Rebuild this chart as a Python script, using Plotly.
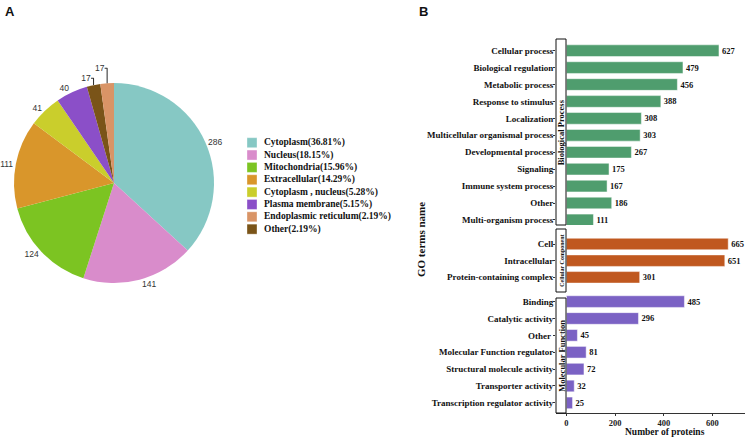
import plotly.graph_objects as go

W, H = 747, 438

# ---- pie data (panel A), in clockwise slice order from 12 o'clock
loc_names = ["Cytoplasm", "Nucleus", "Mitochondria", "Extracellular",
             "Cytoplasm , nucleus", "Plasma membrane", "Other", "Endoplasmic reticulum"]
loc_counts = [286, 141, 124, 111, 41, 40, 17, 17]
loc_colors = ["#86c8c4", "#d98ccb", "#7cc422", "#d9962b",
              "#cace2c", "#8b4fc8", "#7a5418", "#d99466"]
# legend order and text as in the figure
legend_text = ["Cytoplasm(36.81%)", "Nucleus(18.15%)", "Mitochondria(15.96%)",
               "Extracellular(14.29%)", "Cytoplasm , nucleus(5.28%)",
               "Plasma membrane(5.15%)", "Endoplasmic reticulum(2.19%)", "Other(2.19%)"]
legend_colors = ["#86c8c4", "#d98ccb", "#7cc422", "#d9962b",
                 "#cace2c", "#8b4fc8", "#d99466", "#7a5418"]

# ---- GO data (panel B)
bp_terms = ["Cellular process", "Biological regulation", "Metabolic process",
            "Response to stimulus", "Localization", "Multicellular organismal process",
            "Developmental process", "Signaling", "Immune system process", "Other",
            "Multi-organism process"]
bp_counts = [627, 479, 456, 388, 308, 303, 267, 175, 167, 186, 111]
cc_terms = ["Cell", "Intracellular", "Protein-containing complex"]
cc_counts = [665, 651, 301]
mf_terms = ["Binding", "Catalytic activity", "Other ", "Molecular Function regulator",
            "Structural molecule activity", "Transporter activity",
            "Transcription regulator activity"]
mf_counts = [485, 296, 45, 81, 72, 32, 25]
x_ticks = [0, 200, 400, 600]


def px_x(v):
    return v / W


def px_y(v):
    return 1 - v / H


SERIF = "Liberation Serif"

fig = go.Figure()

# pie nudged a few px right so the "111" label stays inside the page
fig.add_trace(go.Pie(
    labels=loc_names, values=loc_counts, sort=False, direction="clockwise",
    rotation=0, marker=dict(colors=loc_colors), textinfo="value",
    textposition="outside", textfont=dict(family="Liberation Sans", size=8.5, color="#333"),
    showlegend=False, hoverinfo="label+value+percent", automargin=False,
    domain=dict(x=[px_x(14), px_x(214)], y=[px_y(283), px_y(83)]),
))

groups = [
    (bp_terms, bp_counts, "#4f9d6e", "y"),
    (cc_terms, cc_counts, "#c0581f", "y2"),
    (mf_terms, mf_counts, "#7b62c4", "y3"),
]
for terms, counts, color, yax in groups:
    fig.add_trace(go.Bar(
        x=counts, y=terms, orientation="h", yaxis=yax, xaxis="x",
        width=0.69, marker=dict(color=color, line=dict(color="rgba(255,255,255,0.6)", width=0.8)),
        text=counts, textposition="outside", cliponaxis=False,
        textfont=dict(family=SERIF, weight="bold", size=8.5, color="#111"),
        showlegend=False,
    ))

ytick = dict(family=SERIF, weight="bold", size=9, color="#111")
yax_common = dict(type="category", ticks="outside", ticklen=2, tickcolor="#333",
                  tickfont=ytick, showgrid=False, zeroline=False, showline=False,
                  anchor="x", automargin=False, ticklabelstandoff=-2)

fig.update_layout(
    template="none",
    width=W, height=H, margin=dict(l=0, r=0, t=0, b=0, pad=0),
    paper_bgcolor="white", plot_bgcolor="white",
    xaxis=dict(domain=[px_x(556), px_x(745)], range=[-43, 734], anchor="y3",
               showline=True, linecolor="#333", linewidth=1, ticks="outside",
               ticklen=2, tickcolor="#333", tickvals=x_ticks, showgrid=False,
               zeroline=False, automargin=False,
               tickfont=dict(family=SERIF, weight="bold", size=8.5, color="#222")),
    yaxis=dict(domain=[px_y(225), px_y(39)], range=[10.3, -0.69],
               categoryarray=bp_terms, categoryorder="array", **yax_common),
    yaxis2=dict(domain=[px_y(292), px_y(229)], range=[2.88, -0.9],
                categoryarray=cc_terms, categoryorder="array", **yax_common),
    yaxis3=dict(domain=[px_y(413), px_y(295)], range=[6.6, -0.39],
                categoryarray=mf_terms, categoryorder="array", **yax_common),
)

shapes = []
annotations = []


def note(x, y, text, size, family=SERIF, bold=True, **kw):
    opts = dict(xref="paper", yref="paper", x=px_x(x), y=px_y(y), text=text,
                showarrow=False, xanchor="center", yanchor="middle",
                font=dict(family=family, weight="bold" if bold else "normal",
                          size=size, color="#111"))
    opts.update(kw)
    annotations.append(opts)


# strip boxes with group names
strips = [(39, 225, "Biological Process", 8.5), (229, 292, "Cellular Component", 6),
          (298, 413, "Molecular Function", 8.5)]
for top, bot, name, fs in strips:
    shapes.append(dict(type="rect", xref="paper", yref="paper",
                       x0=px_x(556), x1=px_x(566), y0=px_y(bot), y1=px_y(top),
                       fillcolor="white", line=dict(color="#111", width=1), layer="above"))
    note(561.3, (top + bot) / 2, name, fs, textangle=-90)

# manual legend for panel A
for i, (txt, col) in enumerate(zip(legend_text, legend_colors)):
    cy = 142.7 + i * 12.35
    shapes.append(dict(type="rect", xref="paper", yref="paper",
                       x0=px_x(247), x1=px_x(257), y0=px_y(cy + 5), y1=px_y(cy - 5),
                       fillcolor=col, line=dict(color="rgba(255,255,255,0.7)", width=0.5)))
    note(262, cy, txt, 9.5, xanchor="left")

note(3, 2, "<b>A</b>", 13, family="Liberation Sans", bold=False, xanchor="left", yanchor="top")
note(417, 2, "<b>B</b>", 13, family="Liberation Sans", bold=False, xanchor="left", yanchor="top")
note(421, 240, "GO terms name", 11, textangle=-90)
note(665, 432, "Number of proteins", 9.5)

fig.update_layout(shapes=shapes, annotations=annotations)

# drop the browser's default 8px body margin so the figure sits at the page corner
fig.write_html("out.html", config={"displayModeBar": False},
               post_script="document.body.style.margin = '0';")
